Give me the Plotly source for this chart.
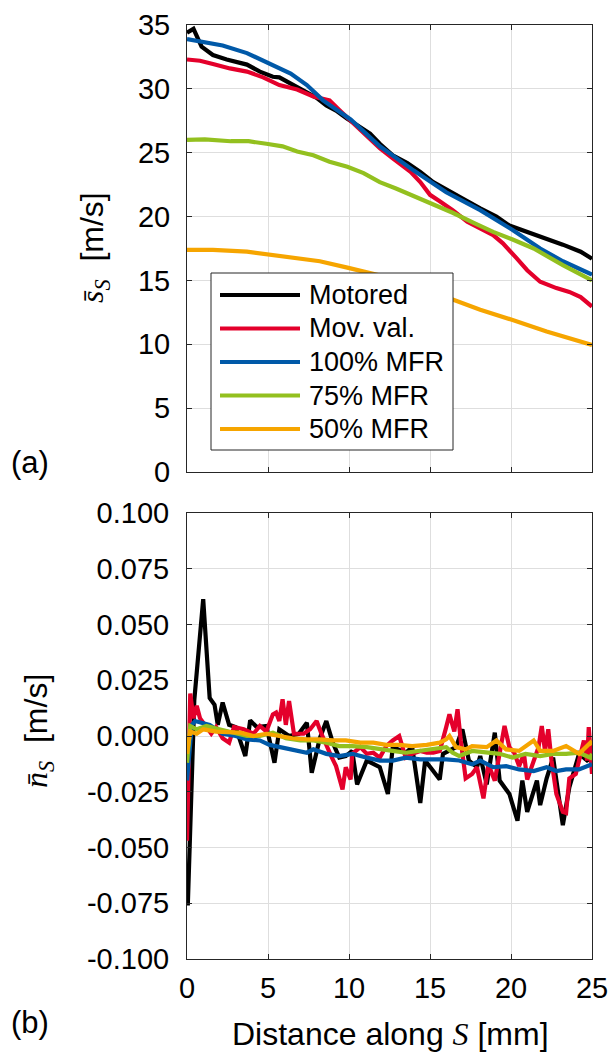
import plotly.graph_objects as go

# ---------------- data: top panel (mean streamwise velocity) ----------------
names = ["Motored", "Mov. val.", "100% MFR", "75% MFR", "50% MFR"]
colors = ["#000000", "#E4002B", "#0059A8", "#93C01F", "#F6A500"]

top_mot_x = [0.0, 0.4, 0.9, 1.6, 2.45, 3.7, 4.5, 5.3, 5.7, 6.4, 7.2, 8.0, 8.6, 9.2, 9.85, 10.7, 11.3, 11.9,
             12.7, 13.6, 14.4, 15.2, 16.0, 17.1, 18.1, 19.1, 19.9, 21.0, 22.2, 23.2, 24.3, 25.0]
top_mot_y = [34.4, 34.7, 33.3, 32.65, 32.3, 31.9, 31.35, 30.95, 30.9, 30.4, 29.9, 29.3, 28.7, 28.3, 27.7, 27.05,
             26.5, 25.7, 24.8, 24.2, 23.5, 22.7, 22.1, 21.35, 20.65, 20.0, 19.3, 18.8, 18.3, 17.8, 17.25, 16.7]

top_mov_x = [0.0, 0.8, 1.6, 2.65, 3.7, 4.7, 5.7, 6.8, 7.8, 8.8, 9.4, 10.3, 11.1, 11.9, 12.7, 13.8, 14.4, 15.0,
             15.6, 16.4, 17.3, 18.1, 18.9, 19.5, 19.9, 20.3, 21.0, 21.8, 22.8, 23.6, 24.3, 25.0]
top_mov_y = [32.3, 32.2, 31.95, 31.6, 31.35, 30.9, 30.3, 29.95, 29.4, 29.1, 28.35, 27.3, 26.3, 25.35, 24.55,
             23.5, 22.7, 21.7, 21.2, 20.5, 19.6, 19.1, 18.55, 17.9, 17.4, 16.8, 15.8, 14.9, 14.4, 14.1, 13.7, 12.95]

top_100_x = [0.0, 1.0, 2.2, 3.7, 5.1, 6.4, 7.4, 8.4, 10.1, 11.9, 14.0, 16.0, 18.1, 20.1, 21.8, 23.2, 25.0]
top_100_y = [33.9, 33.7, 33.4, 32.8, 32.0, 31.2, 30.3, 29.1, 27.6, 25.5, 23.6, 21.9, 20.5, 18.95, 17.5, 16.5, 15.45]

top_75_x = [0.0, 1.1, 2.7, 3.8, 4.9, 5.9, 6.8, 7.8, 8.8, 9.9, 10.9, 11.9, 12.9, 14.0, 15.2, 16.4, 17.7, 18.9,
            20.1, 21.4, 23.2, 25.0]
top_75_y = [26.0, 26.05, 25.9, 25.9, 25.7, 25.5, 25.1, 24.8, 24.3, 23.9, 23.4, 22.7, 22.2, 21.6, 20.9, 20.3,
            19.5, 18.8, 18.2, 17.5, 16.2, 15.0]

top_50_x = [0.0, 1.6, 3.7, 5.3, 6.8, 8.2, 9.9, 11.1, 12.5, 14.0, 15.0, 16.4, 18.1, 20.1, 22.2, 25.0]
top_50_y = [17.4, 17.4, 17.25, 17.0, 16.75, 16.5, 16.0, 15.6, 15.2, 14.6, 14.1, 13.5, 12.7, 11.9, 11.0, 9.95]

# ---------------- data: bottom panel (mean normal velocity) ----------------
bot_mot_x = [0.05, 0.45, 1.0, 1.4, 1.7, 1.9, 2.2, 2.6, 3.0, 3.6, 3.9, 4.3, 4.9, 5.4, 5.7, 6.3, 6.9, 7.4, 7.7,
             8.2, 8.6, 9.0, 9.4, 9.8, 10.2, 10.5, 11.1, 11.9, 12.4, 12.7, 13.5, 13.9, 14.4, 14.7, 15.2, 15.6,
             15.8, 16.6, 17.0, 17.4, 17.9, 18.1, 18.5, 19.0, 19.3, 19.9, 20.4, 20.7, 21.0, 21.6, 21.8, 22.2,
             22.6, 23.2, 23.6, 24.2, 24.7, 25.0]
bot_mot_y = [-0.076, 0.016, 0.0614, 0.017, 0.014, 0.005, 0.015, 0.005, 0.004, -0.009, 0.007, 0.004, 0.0045,
             -0.012, 0.003, 0.0, 0.001, 0.006, -0.0165, -0.001, 0.0067, -0.003, -0.0097, -0.009, -0.0067,
             -0.0217, -0.011, -0.014, -0.026, -0.005, -0.0075, -0.005, -0.030, -0.011, -0.0157, -0.0195,
             -0.008, -0.005, 0.003, -0.011, -0.014, -0.009, -0.0217, 0.0015, -0.020, -0.026, -0.038, -0.020,
             -0.034, -0.020, -0.031, -0.019, -0.0097, -0.040, -0.023, -0.008, -0.011, -0.0097]

bot_mov_x = [0.0, 0.2, 0.4, 0.6, 0.8, 1.2, 1.5, 1.8, 2.2, 2.6, 2.9, 3.5, 4.1, 4.5, 4.9, 5.3, 5.5, 5.7, 5.9,
             6.1, 6.3, 6.6, 7.2, 7.6, 8.0, 8.3, 8.6, 8.9, 9.2, 9.6, 9.8, 10.1, 10.2, 10.7, 11.1, 11.5, 11.9,
             12.3, 12.7, 13.1, 13.5, 13.9, 14.4, 14.8, 15.2, 15.6, 16.0, 16.2, 16.5, 16.7, 16.9, 17.2, 17.6,
             17.9, 18.3, 18.6, 19.0, 19.4, 19.6, 19.9, 20.2, 20.5, 20.8, 21.0, 21.4, 21.7, 21.9, 22.1, 22.3,
             22.5, 22.8, 23.2, 23.4, 23.6, 24.0, 24.2, 24.5, 24.7, 24.8, 25.0]
bot_mov_y = [-0.047, 0.019, 0.008, 0.0135, 0.008, 0.004, 0.001, 0.004, -0.001, -0.003, 0.004, 0.003, 0.001,
             0.0045, 0.002, 0.0097, 0.0105, 0.0067, 0.0165, 0.005, 0.0157, 0.001, 0.001, 0.003, 0.0067,
             0.001, -0.0045, -0.009, -0.0135, -0.024, -0.014, -0.0195, -0.008, -0.005, -0.008, -0.0075,
             -0.0097, -0.0045, -0.002, 0.0, -0.0097, -0.008, -0.0067, -0.0075, -0.0075, -0.0067, 0.004,
             0.0097, 0.002, 0.012, -0.002, -0.019, -0.017, -0.014, -0.028, -0.0127, -0.020, -0.003, 0.0045,
             -0.005, -0.0075, -0.0135, -0.008, -0.0195, -0.011, -0.005, 0.0045, -0.0067, 0.003, -0.011,
             -0.026, -0.034, -0.0345, -0.019, -0.017, -0.011, -0.002, -0.011, 0.004, -0.017]

bot_100_x = [0.0, 0.3, 0.5, 0.8, 1.4, 2.2, 3.0, 3.7, 4.5, 5.1, 5.7, 6.5, 7.4, 7.8, 8.6, 9.4, 10.2, 11.1, 11.9,
             12.7, 13.5, 14.4, 15.2, 16.0, 16.8, 17.6, 18.1, 18.9, 19.7, 20.5, 21.4, 22.2, 22.8, 23.4, 24.2,
             25.0]
bot_100_y = [-0.020, 0.005, 0.0067, 0.006, 0.005, 0.001, 0.0, -0.0015, -0.002, -0.004, -0.005, -0.006,
             -0.0075, -0.006, -0.008, -0.009, -0.008, -0.0097, -0.011, -0.011, -0.0097, -0.0105, -0.0105,
             -0.0105, -0.011, -0.0127, -0.011, -0.014, -0.0135, -0.015, -0.0157, -0.014, -0.0157, -0.015,
             -0.015, -0.0127]

bot_75_x = [0.0, 0.2, 0.6, 1.2, 2.0, 2.8, 3.7, 4.5, 5.3, 6.1, 7.0, 7.8, 8.6, 9.4, 10.2, 11.1, 11.9, 12.7, 13.5,
            14.4, 15.2, 16.0, 16.4, 16.8, 17.6, 18.5, 19.3, 20.1, 20.9, 21.8, 22.6, 23.4, 24.2, 24.9, 25.0]
bot_75_y = [-0.012, 0.0045, 0.003, 0.0045, 0.003, 0.0015, 0.0, 0.0, 0.0015, -0.001, -0.002, -0.002, -0.003,
            -0.0045, -0.0045, -0.005, -0.006, -0.0067, -0.0075, -0.0067, -0.006, -0.005, -0.0075, -0.009,
            -0.0067, -0.0075, -0.008, -0.0097, -0.008, -0.009, -0.008, -0.008, -0.0075, -0.0097, -0.008]

bot_50_x = [0.0, 0.2, 0.6, 1.0, 1.8, 2.6, 3.3, 4.1, 4.9, 5.7, 6.5, 7.4, 8.2, 9.0, 9.8, 10.7, 11.5, 12.3, 13.1,
            13.9, 14.8, 15.6, 16.0, 16.2, 16.6, 17.2, 17.6, 18.5, 19.1, 19.7, 20.5, 21.4, 21.8, 22.6, 23.4,
            24.2, 24.9, 25.0]
bot_50_y = [-0.008, 0.002, 0.001, 0.003, 0.002, 0.0015, 0.0015, 0.0, 0.001, 0.0, -0.001, -0.0015, -0.0015,
            -0.002, -0.002, -0.003, -0.003, -0.004, -0.004, -0.0045, -0.004, -0.003, -0.0015, 0.0, -0.005,
            -0.006, -0.0045, -0.005, -0.002, -0.006, -0.0067, -0.002, -0.0067, -0.0067, -0.0045, -0.008,
            -0.003, -0.004]

top_ticks = [0, 5, 10, 15, 20, 25, 30, 35]
bot_ticks = [-0.100, -0.075, -0.050, -0.025, 0.000, 0.025, 0.050, 0.075, 0.100]
bot_tick_text = ["-0.100", "-0.075", "-0.050", "-0.025", "0.000", "0.025", "0.050", "0.075", "0.100"]
x_ticks = [0, 5, 10, 15, 20, 25]

# ---------------- figure ----------------
W, H = 612, 1060
FONT = "Arial, Liberation Sans, sans-serif"
SERIF = "Liberation Serif, Times New Roman, serif"
LW = 4.2

fig = go.Figure()
top_sets = [(top_mot_x, top_mot_y), (top_mov_x, top_mov_y), (top_100_x, top_100_y),
            (top_75_x, top_75_y), (top_50_x, top_50_y)]
bot_sets = [(bot_mot_x, bot_mot_y), (bot_mov_x, bot_mov_y), (bot_100_x, bot_100_y),
            (bot_75_x, bot_75_y), (bot_50_x, bot_50_y)]
for (xs, ys), n, c in zip(top_sets, names, colors):
    fig.add_trace(go.Scatter(x=xs, y=ys, mode="lines", name=n, line=dict(color=c, width=LW),
                             xaxis="x", yaxis="y", showlegend=False))
for (xs, ys), n, c in zip(bot_sets, names, colors):
    fig.add_trace(go.Scatter(x=xs, y=ys, mode="lines", name=n, line=dict(color=c, width=LW),
                             xaxis="x2", yaxis="y2", showlegend=False))

px_x = lambda p: p / W
px_y = lambda p: 1 - p / H

xdom = [px_x(187), px_x(592)]
ax_common = dict(showline=True, linecolor="#262626", linewidth=1, mirror="ticks", ticks="inside",
                 ticklen=5, tickcolor="#262626", showgrid=True, gridcolor="#DEDEDE", gridwidth=1,
                 zeroline=False, automargin=False,
                 tickfont=dict(family=FONT, size=29, color="#000000"))

fig.update_layout(
    width=W, height=H, margin=dict(l=0, r=0, t=0, b=0, pad=0), autosize=False,
    paper_bgcolor="white", plot_bgcolor="white", showlegend=False,
    xaxis=dict(domain=xdom, range=[0, 25], tickvals=x_ticks, showticklabels=False, anchor="y", **ax_common),
    yaxis=dict(domain=[px_y(472), px_y(25)], range=[0, 35], tickvals=top_ticks, anchor="x",
               ticklabelstandoff=10, **ax_common),
    xaxis2=dict(domain=xdom, range=[0, 25], tickvals=x_ticks, anchor="y2", ticklabelstandoff=3, **ax_common),
    yaxis2=dict(domain=[px_y(959), px_y(513)], range=[-0.1, 0.1], tickvals=bot_ticks, ticktext=bot_tick_text,
                anchor="x2", ticklabelstandoff=11, **ax_common),
)

annos = []
sym = lambda letter: (f'<span style="font-family:{SERIF}"><i>{letter}\u0304</i>'
                      f'<sub><i>S</i></sub></span>')
annos.append(dict(text=sym("s") + "  [m/s]", x=px_x(95), y=px_y(248), xref="paper", yref="paper",
                  textangle=-90, showarrow=False, font=dict(family=FONT, size=32, color="black"),
                  xanchor="center", yanchor="middle"))
annos.append(dict(text=sym("n") + "  [m/s]", x=px_x(38), y=px_y(731), xref="paper", yref="paper",
                  textangle=-90, showarrow=False, font=dict(family=FONT, size=32, color="black"),
                  xanchor="center", yanchor="middle"))
annos.append(dict(text=f'Distance along <span style="font-family:{SERIF}"><i>S</i></span> [mm]',
                  x=px_x(390), y=px_y(1034), xref="paper", yref="paper", showarrow=False,
                  font=dict(family=FONT, size=32, color="black"), xanchor="center", yanchor="middle"))
annos.append(dict(text="(a)", x=px_x(30), y=px_y(462), xref="paper", yref="paper", showarrow=False,
                  font=dict(family=FONT, size=31, color="black"), xanchor="center", yanchor="middle"))
annos.append(dict(text="(b)", x=px_x(30), y=px_y(1022), xref="paper", yref="paper", showarrow=False,
                  font=dict(family=FONT, size=31, color="black"), xanchor="center", yanchor="middle"))

# legend drawn manually (long line samples like the original)
shapes = [dict(type="rect", xref="paper", yref="paper", x0=px_x(211), x1=px_x(453), y0=px_y(450),
               y1=px_y(273), fillcolor="white", line=dict(color="#262626", width=1), layer="above")]
row_y = [295, 328.5, 362, 395.5, 429]
for n, c, ry in zip(names, colors, row_y):
    shapes.append(dict(type="line", xref="paper", yref="paper", x0=px_x(220), x1=px_x(300),
                       y0=px_y(ry), y1=px_y(ry), line=dict(color=c, width=LW), layer="above"))
    annos.append(dict(text=n, x=px_x(307), y=px_y(ry), xref="paper", yref="paper", showarrow=False,
                      font=dict(family=FONT, size=27, color="black"), xanchor="left", yanchor="middle"))

fig.update_layout(annotations=annos, shapes=shapes)
fig.write_html("out.html")
